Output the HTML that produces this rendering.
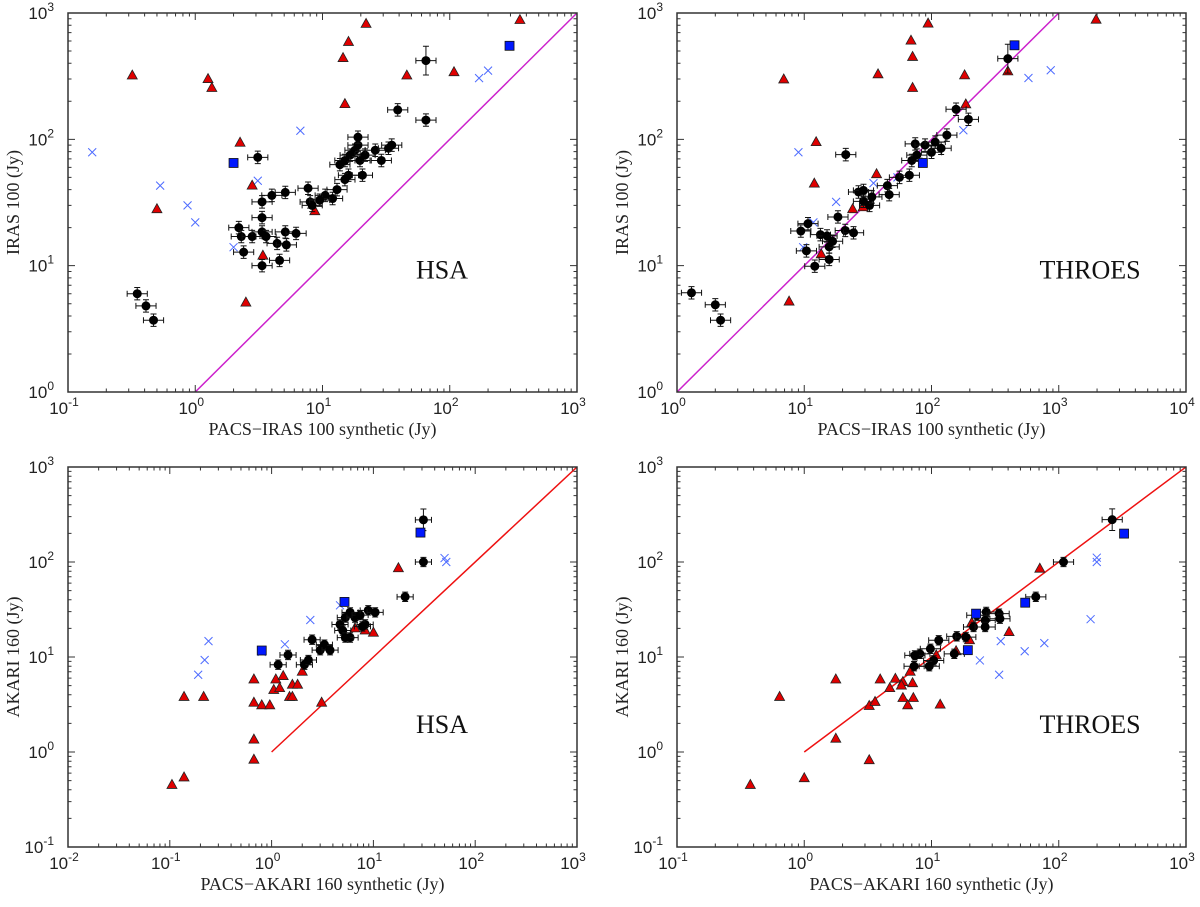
<!DOCTYPE html>
<html><head><meta charset="utf-8"><style>
body{margin:0;background:#fff}
svg text{font-family:"Liberation Sans",sans-serif}
.serif{font-family:"Liberation Serif",serif}
</style></head><body>
<svg id="c" width="1200" height="902" xmlns="http://www.w3.org/2000/svg"></svg>
<script>
// ---- data: panel TL (IRAS 100 vs HSA) ----
const tlBlackX=[0.35,0.41,0.47,2.2,2.3,2.4,2.8,3.1,3.35,3.35,3.35,3.35,3.6,4.0,4.4,4.6,5.1,5.1,5.2,6.2,7.7,8.0,8.3,10.5,12,13,13.7,15,16,16.5,18,19,19.7,20.6,21.6,26,29,33,35,19,39,65,65,15,9.5];
const tlBlackY=[6.0,4.8,3.7,20,17,12.8,17,72,32,24,18.5,10,17,36,15,11,38,18.5,14.6,18,41,32,30,36,34,40,63,68,52,75,82,90,68,52,75,82,68,85,90,104,171,142,420,48,33];
const tlRedX=[0.32,1.26,1.35,0.5,2.25,2.5,2.8,3.4,15,14.5,16,22,46,108,356,8.7];
const tlRedY=[320,300,255,28,94,5.1,43,12,190,440,590,820,320,340,880,27];
const tlBlueXx=[0.155,0.53,0.87,1.0,6.7,2.0,3.1,170,200];
const tlBlueXy=[79,43,30,22,117,14,47,305,350];
const tlSqX=[2.0,295];
const tlSqY=[65,550];
// ---- panel TR (IRAS 100 vs THROES) ----
const trBlackX=[1.3,2.0,2.2,9.4,10.7,10.4,12.1,13.4,15.1,15.7,15.7,16.7,18.4,21,21.2,24.4,26.7,29.2,29.2,32.6,34,45,46.5,56,67,70,74.5,76.7,89,100,107,119,132,156,195,398];
const trBlackY=[6.1,4.9,3.7,18.8,21.5,13.1,9.9,17.6,17.2,14.1,11.2,15.6,24.3,19,75.7,18.2,38.3,39.4,32.3,30,35,43,36.5,50,52,68,92,75,90,79,95,85,108,173,144,435];
const trRedX=[6.9,7.6,12.4,12,13.6,24,29,37,38,69,71,71,94,182,186,398,1965];
const trRedY=[298,5.2,95,44.6,12.3,28,29,53,327,604,449,255,824,321,189,345,885];
const trBlueXx=[9.0,17.8,11.8,9.8,35,54,178,578,865];
const trBlueXy=[79,32,22,14,45,50,118,306,352];
const trSqX=[85.5,449];
const trSqY=[65,555];
// ---- panel BL (AKARI 160 vs HSA) ----
const blBlackX=[1.16,1.45,2.1,2.3,2.5,3.0,3.3,3.75,4.7,5.0,5.3,5.9,6.6,7.4,8.3,8.9,10.4,5.9,5.3,20.5,31,31,7.8];
const blBlackY=[8.3,10.5,8.3,9.3,15.2,11.8,13.5,11.8,22,19,26,29.5,26,27.6,22,31,29.5,16,16,43,278,100,21];
const blRedX=[0.105,0.138,0.138,0.215,0.67,0.67,0.67,0.67,0.8,0.96,1.05,1.1,1.2,1.3,1.5,1.6,1.6,1.8,2.0,3.1,10,17.6,6.6,8.3];
const blRedY=[0.45,0.54,3.8,3.8,0.83,1.35,3.3,5.8,3.1,3.1,4.5,5.8,4.7,6.3,3.8,3.8,5.1,5.1,7.0,3.3,18,86,20,19];
const blBlueXx=[0.24,0.22,0.19,0.8,1.35,2.4,4.7,50,52];
const blBlueXy=[14.7,9.3,6.5,11.3,13.6,24.5,35,110,100];
const blSqX=[0.8,5.2,29];
const blSqY=[11.7,38,204];
// ---- panel BR (AKARI 160 vs THROES) ----
const brBlackX=[263,109,66,26.9,34,34.5,22.7,26.4,21.4,26.4,15.8,18.6,11.4,9.8,8.1,7.4,10.4,9.6,7.3,15.1];
const brBlackY=[279,100,43,29.8,28.6,25.3,27.5,24.3,20.7,20.7,16.5,16.2,15,12.2,10.8,10.4,9.2,8.0,8.0,10.8];
const brRedX=[0.377,1.0,0.64,1.77,1.77,3.24,3.24,3.6,3.95,4.7,5.2,5.96,5.8,7.1,5.96,7.2,6.5,6.8,11.7,10.9,15.6,19.9,20.7,40.7,71];
const brRedY=[0.45,0.53,3.8,5.8,1.38,0.82,3.05,3.36,5.8,4.7,5.9,5.45,5.0,5.3,3.7,3.7,3.1,7.0,3.15,10.4,11.5,15,22.8,18.3,85];
const brBlueXx=[24,34,35,54,77,178,199,199];
const brBlueXy=[9.2,6.5,14.7,11.5,14,25,111,100];
const brSqX=[19.3,22.4,54.5,326];
const brSqY=[11.8,28.6,37.3,199];

const NS="http://www.w3.org/2000/svg";
const svg=document.getElementById('c');
function mk(tag,attrs,parent){const e=document.createElementNS(NS,tag);for(const k in attrs)e.setAttribute(k,attrs[k]);(parent||svg).appendChild(e);return e;}

function panel(cfg){
  const g=mk('g',{});
  
  
  const {x0,x1,y0,y1,lx0,lx1,ly0,ly1}=cfg;
  const sx=v=>x0+(Math.log10(v)-lx0)/(lx1-lx0)*(x1-x0);
  const sy=v=>y1-(Math.log10(v)-ly0)/(ly1-ly0)*(y1-y0);
  const clip='cl'+cfg.name;
  const cp=mk('clipPath',{id:clip},g);mk('rect',{x:x0,y:y0,width:x1-x0,height:y1-y0},cp);
  const pg=mk('g',{'clip-path':'url(#'+clip+')'},g);
  const ln=mk('line',{x1:sx(1),y1:sy(1),x2:sx(1000),y2:sy(1000),stroke:cfg.lineColor,'stroke-width':1.5},pg);
  
  
  cfg.bx.forEach((v,i)=>{const cx=sx(v),cy=sy(cfg.by[i]);const p=mk('path',{d:`M${cx-4},${cy-4}L${cx+4},${cy+4}M${cx-4},${cy+4}L${cx+4},${cy-4}`,stroke:'#4d6bff','stroke-width':1},pg);
    
    });
  cfg.rx.forEach((v,i)=>{const cx=sx(v),cy=sy(cfg.ry[i]);const p=mk('path',{d:`M${cx},${cy-5.5}L${cx+5},${cy+3.5}L${cx-5},${cy+3.5}Z`,fill:'#e00000',stroke:'#222','stroke-width':0.8},pg);
    
    });
  cfg.kx.forEach((v,i)=>{const cx=sx(v),cy=sy(cfg.ky[i]);
    const ex=sx(v*1.2)-cx, ey=cy-sy(cfg.ky[i]*(cfg.ky[i]>200?1.3:1.12));
    mk('path',{d:`M${cx-ex},${cy}H${cx+ex}M${cx-ex},${cy-3}V${cy+3}M${cx+ex},${cy-3}V${cy+3}M${cx},${cy-ey}V${cy+ey}M${cx-3},${cy-ey}H${cx+3}M${cx-3},${cy+ey}H${cx+3}`,stroke:'#111','stroke-width':1,fill:'none'},pg);
    const c=mk('circle',{cx,cy,r:4.5,fill:'#000'},pg);
    
    });
  cfg.sqx.forEach((v,i)=>{const cx=sx(v),cy=sy(cfg.sqy[i]);const r=mk('rect',{x:cx-4.5,y:cy-4.5,width:9,height:9,fill:'#0018ff',stroke:'#111','stroke-width':0.8},pg);
    
    });
  const fr=mk('rect',{x:x0,y:y0,width:x1-x0,height:y1-y0,fill:'none',stroke:'#333','stroke-width':1.5},g);
  
  
  let d='';
  for(let e=lx0;e<=lx1;e++){for(let m=1;m<10;m++){if(e==lx1&&m>1)break;const x=sx(m*Math.pow(10,e));const L=m==1?7:3.5;d+=`M${x},${y1}v${-L}M${x},${y0}v${L}`;}}
  for(let e=ly0;e<=ly1;e++){for(let m=1;m<10;m++){if(e==ly1&&m>1)break;const y=sy(m*Math.pow(10,e));const L=m==1?7:3.5;d+=`M${x0},${y}h${L}M${x1},${y}h${-L}`;}}
  mk('path',{d,stroke:'#333','stroke-width':1},g);
  for(let e=lx0;e<=lx1;e++){const t=mk('text',{x:sx(Math.pow(10,e))-4,y:y1+22,'font-size':17,'text-anchor':'middle',fill:'#222'},g);
    
    
    t.textContent='10';const s=mk('tspan',{dy:-8,'font-size':12},t);s.textContent=String(e);}
  for(let e=ly0;e<=ly1;e++){const t=mk('text',{x:x0-14,y:sy(Math.pow(10,e))+6,'font-size':17,'text-anchor':'end',fill:'#222'},g);
    
    
    t.textContent='10';const s=mk('tspan',{dy:-8,'font-size':12},t);s.textContent=String(e);}
  const xt=mk('text',{x:(x0+x1)/2,y:y1+43,'font-size':18,'text-anchor':'middle',class:'serif',fill:'#222'},g);
  
  
  xt.textContent=cfg.xtitle;
  const yt=mk('text',{x:0,y:0,'font-size':18,'text-anchor':'middle',class:'serif',fill:'#222',transform:`translate(${x0-49},${(y0+y1)/2}) rotate(-90)`},g);
  
  
  yt.textContent=cfg.ytitle;
  const lb=mk('text',{x:cfg.labX,y:y0+(y1-y0)*0.7,'font-size':26,'text-anchor':'middle',class:'serif',fill:'#111'},g);
  
  
  lb.textContent=cfg.label;
}
panel({name:'panel-iras-hsa',x0:68,x1:577,y0:13,y1:392,lx0:-1,lx1:3,ly0:0,ly1:3,lineColor:'#cc22cc',kx:tlBlackX,ky:tlBlackY,rx:tlRedX,ry:tlRedY,bx:tlBlueXx,by:tlBlueXy,sqx:tlSqX,sqy:tlSqY,xtitle:'PACS\u2212IRAS 100 synthetic (Jy)',ytitle:'IRAS 100 (Jy)',label:'HSA',labX:442});
panel({name:'panel-iras-throes',x0:677,x1:1186,y0:13,y1:392,lx0:0,lx1:4,ly0:0,ly1:3,lineColor:'#cc22cc',kx:trBlackX,ky:trBlackY,rx:trRedX,ry:trRedY,bx:trBlueXx,by:trBlueXy,sqx:trSqX,sqy:trSqY,xtitle:'PACS\u2212IRAS 100 synthetic (Jy)',ytitle:'IRAS 100 (Jy)',label:'THROES',labX:1090});
panel({name:'panel-akari-hsa',x0:68,x1:577,y0:467,y1:847,lx0:-2,lx1:3,ly0:-1,ly1:3,lineColor:'#ee1111',kx:blBlackX,ky:blBlackY,rx:blRedX,ry:blRedY,bx:blBlueXx,by:blBlueXy,sqx:blSqX,sqy:blSqY,xtitle:'PACS\u2212AKARI 160 synthetic (Jy)',ytitle:'AKARI 160 (Jy)',label:'HSA',labX:442});
panel({name:'panel-akari-throes',x0:677,x1:1186,y0:467,y1:847,lx0:-1,lx1:3,ly0:-1,ly1:3,lineColor:'#ee1111',kx:brBlackX,ky:brBlackY,rx:brRedX,ry:brRedY,bx:brBlueXx,by:brBlueXy,sqx:brSqX,sqy:brSqY,xtitle:'PACS\u2212AKARI 160 synthetic (Jy)',ytitle:'AKARI 160 (Jy)',label:'THROES',labX:1090});
</script>
</body></html>
